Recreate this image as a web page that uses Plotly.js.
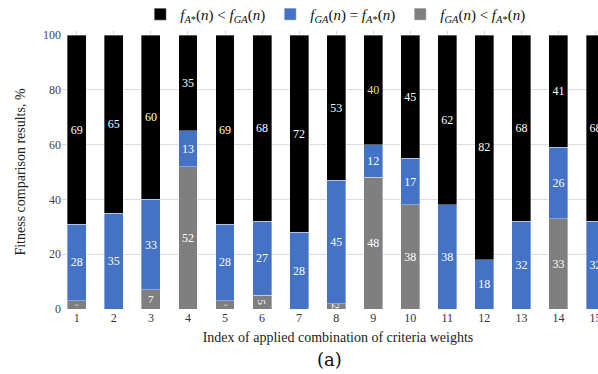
<!DOCTYPE html>
<html><head><meta charset="utf-8">
<script src="https://cdn.plot.ly/plotly-3.0.1.min.js"></script>
<style>html,body{margin:0;padding:0;overflow:hidden;background:#fff;width:598px;height:374px}</style>
</head><body><div id="chart"></div>
<script>
const categories = [1,2,3,4,5,6,7,8,9,10,11,12,13,14,15];
const grayVals  = [3,0,7,52,3,5,0,2,48,38,0,0,0,33,0];
const blueVals  = [28,35,33,13,28,27,28,45,12,17,38,18,32,26,32];
const blackVals = [69,65,60,35,69,68,72,53,40,45,62,82,68,41,68];
const seriesNames = [
  '<i>f</i><sub><i>A</i>*</sub>(<i>n</i>) &lt; <i>f</i><sub><i>GA</i></sub>(<i>n</i>)',
  '<i>f</i><sub><i>GA</i></sub>(<i>n</i>) = <i>f</i><sub><i>A</i>*</sub>(<i>n</i>)',
  '<i>f</i><sub><i>GA</i></sub>(<i>n</i>) &lt; <i>f</i><sub><i>A</i>*</sub>(<i>n</i>)'
];
const lbl = a => a.map(v => v > 0 ? String(v) : '');
const serif = 'Liberation Serif';
const mk = (y, name, color, txtColors) => ({
  type: 'bar', x: categories, y: y, name: name, text: lbl(y),
  textposition: 'inside', insidetextanchor: 'middle',
  textfont: {family: serif, size: 12, color: txtColors},
  marker: {color: color, line: {color: 'rgba(255,255,255,0.6)', width: 0.6}},
  hoverinfo: 'y'
});
const blackTxt = blackVals.map((v,i) => i === 8 ? '#f3dc8a' : '#ffffff');
const data = [
  mk(grayVals, seriesNames[2], '#7f7f7f', '#ffffff'),
  mk(blueVals, seriesNames[1], '#4472c4', '#ffffff'),
  mk(blackVals, seriesNames[0], '#000000', blackTxt),
  {type:'scatter', x:[1], y:[0], xaxis:'x2', showlegend:false, hoverinfo:'skip', mode:'markers', marker:{opacity:0}}
];
const layout = {
  width: 620, height: 374,
  margin: {l: 62, r: 6, t: 34.5, b: 65, autoexpand: false},
  barmode: 'stack', bargap: 0.49,
  paper_bgcolor: '#fff', plot_bgcolor: '#fff',
  font: {family: serif, color: '#333'},
  showlegend: true,
  legend: {orientation: 'h', x: 0.495, xanchor: 'center', y: 1.015, yanchor: 'bottom',
           traceorder: 'reversed', font: {family: serif, size: 15, color: '#111'},
           itemwidth: 30, bgcolor: 'rgba(0,0,0,0)'},
  xaxis: {range: [0.6, 15.5], tickvals: categories, ticktext: categories.map(String),
          showgrid: false, zeroline: false, showline: false, ticks: '',
          tickfont: {family: serif, size: 12, color: '#333'},
          title: {text: 'Index of applied combination of criteria weights', standoff: 8,
                  font: {family: serif, size: 14, color: '#222'}}},
  xaxis2: {overlaying: 'x', side: 'top', matches: 'x', tickvals: categories,
           showticklabels: false, ticks: 'outside', ticklen: 3, tickcolor: '#d0d0d0',
           showgrid: false, zeroline: false, showline: false},
  yaxis: {range: [0, 100], tickvals: [0,20,40,60,80,100], showgrid: true, gridcolor: '#dcdcdc',
          gridwidth: 1, zeroline: false, showline: false, ticks: '',
          tickfont: {family: serif, size: 12, color: '#444'},
          title: {text: 'Fitness comparison results, %', standoff: 14,
                  font: {family: serif, size: 14, color: '#222'}}},
  annotations: [{text: '(a)', xref: 'paper', yref: 'paper', x: 0.485, y: -0.14, yanchor: 'top',
                 xanchor: 'center', showarrow: false,
                 font: {family: 'DejaVu Serif', size: 18, color: '#111'}}]
};
Plotly.newPlot('chart', data, layout, {displayModeBar: false, staticPlot: true});
</script></body></html>
